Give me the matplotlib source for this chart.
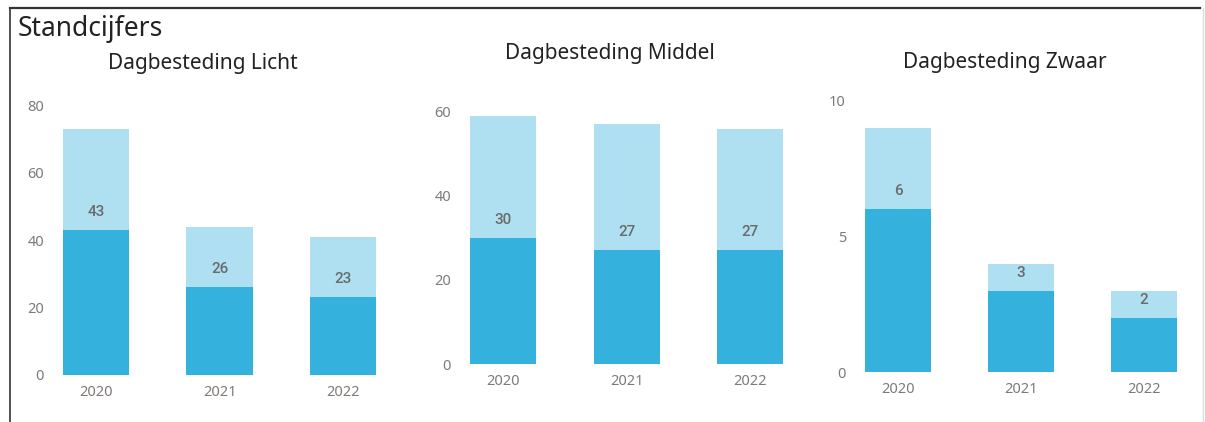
import matplotlib
matplotlib.use("Agg")
import matplotlib.pyplot as plt
from matplotlib.lines import Line2D

years = ["2020", "2021", "2022"]

panel_titles = ["Dagbesteding Licht", "Dagbesteding Middel", "Dagbesteding Zwaar"]
# dark (labelled) segment values
licht_dark = [43, 26, 23]
middel_dark = [30, 27, 27]
zwaar_dark = [6, 3, 2]
# light segment values stacked on top
licht_light = [30, 18, 18]
middel_light = [29, 30, 29]
zwaar_light = [3, 1, 1]

y_max = [80, 60, 10]
y_ticks = [[0, 20, 40, 60, 80], [0, 20, 40, 60], [0, 5, 10]]

dark_vals = [licht_dark, middel_dark, zwaar_dark]
light_vals = [licht_light, middel_light, zwaar_light]

DARK = "#34B1DC"
LIGHT = "#AEE0F2"
TICK_C = "#7f7a77"
LAB_C = "#6a6a6a"

W, H = 1205, 422
fig = plt.figure(figsize=(W / 100, H / 100), dpi=100)

# layout in pixels: left, right, bottom(y of 0), top(y of ymax), first center, spacing
layouts = [
    (55, 400, 375.0, 105.0, 96.0, 123.5),
    (462, 800, 364.0, 111.7, 503.0, 123.6),
    (857, 1195, 372.3, 100.7, 898.0, 123.0),
]
title_pos = [(203, 64), (610, 53), (1005, 63)]

for i in range(3):
    l, r, b, t, c0, sp = layouts[i]
    ax = fig.add_axes([l / W, 1 - b / H, (r - l) / W, (b - t) / H])
    x = list(range(len(years)))
    ax.bar(x, dark_vals[i], width=0.535, color=DARK)
    ax.bar(x, light_vals[i], bottom=dark_vals[i], width=0.535, color=LIGHT)
    ax.set_xlim((l - c0) / sp, (r - c0) / sp)
    ax.set_ylim(0, y_max[i])
    ax.set_yticks(y_ticks[i])
    ax.set_xticks(x)
    ax.set_xticklabels(years)
    for s in ax.spines.values():
        s.set_visible(False)
    ax.tick_params(length=0, labelsize=10.5, labelcolor=TICK_C, pad=7)
    ax.tick_params(axis="y", pad=8)
    for lab in ax.get_xticklabels() + ax.get_yticklabels():
        lab.set_fontfamily("Noto Sans")
    for xi, v in zip(x, dark_vals[i]):
        ax.annotate(str(v), (xi, v), xytext=(0, 13), textcoords="offset points",
                    ha="center", va="center", fontsize=11, color=LAB_C,
                    fontfamily="Roboto", fontweight="medium")
    tx, ty = title_pos[i]
    fig.text(tx / W, 1 - ty / H, panel_titles[i], ha="center", va="center",
             fontsize=15, color="#222222", fontfamily="Noto Sans")

fig.text(18 / W, 1 - 29 / H, "Standcijfers", ha="left", va="center",
         fontsize=19, color="#222222", fontfamily="Noto Sans")

# frame lines
fig.add_artist(Line2D([10 / W, 1200 / W], [1 - 7.5 / H, 1 - 7.5 / H],
                      transform=fig.transFigure, color="#333333", lw=1.6))
fig.add_artist(Line2D([10 / W, 10 / W], [1 - 7.5 / H, 0],
                      transform=fig.transFigure, color="#333333", lw=1.2))
fig.add_artist(Line2D([1203 / W, 1203 / W], [1 - 7.5 / H, 0],
                      transform=fig.transFigure, color="#dddddd", lw=1.0))

fig.savefig("out.png", dpi=100)
